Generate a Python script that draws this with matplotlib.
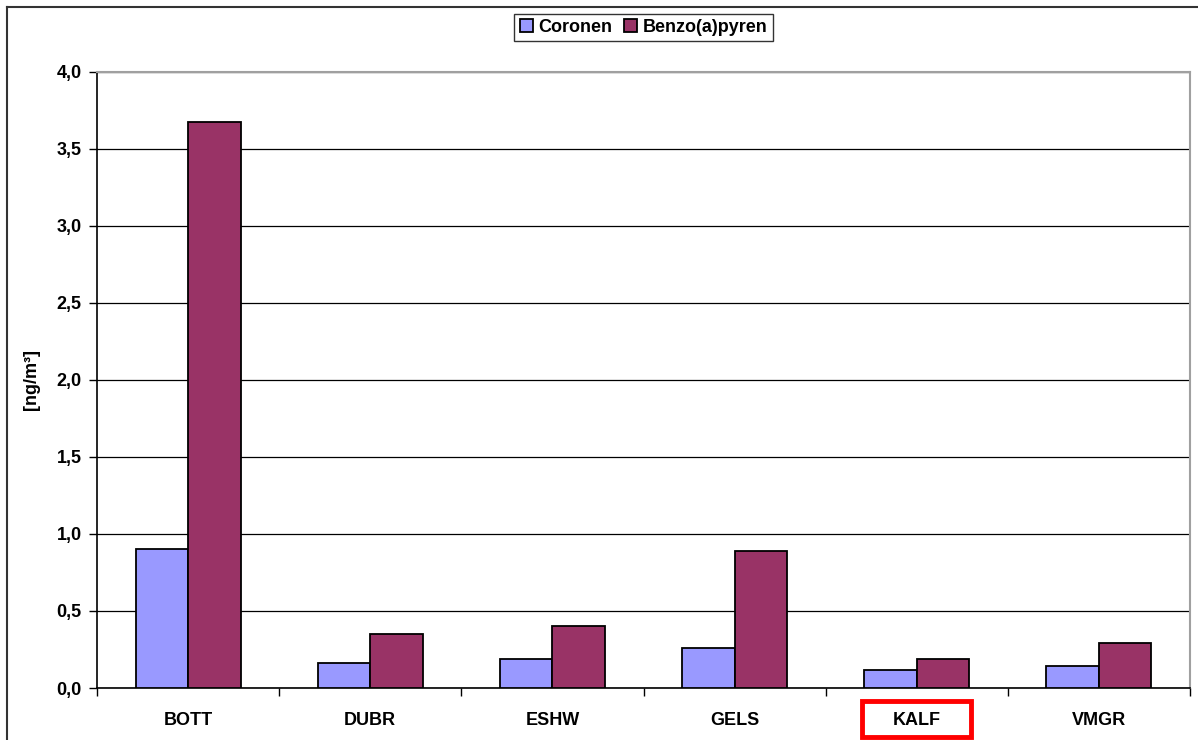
"""
Coronen vs. Benzo(a)pyren per station.
"""
import matplotlib.pyplot as plt
import numpy as np
from matplotlib.patches import Rectangle
from matplotlib.lines import Line2D

stations = ["BOTT", "DUBR", "ESHW", "GELS", "KALF", "VMGR"]
coronen = [0.90, 0.16, 0.19, 0.26, 0.12, 0.14]
benzo = [3.67, 0.35, 0.40, 0.89, 0.19, 0.29]
yticks = [0.0, 0.5, 1.0, 1.5, 2.0, 2.5, 3.0, 3.5, 4.0]

plt.rcParams['font.family'] = ['Liberation Sans', 'DejaVu Sans']
plt.rcParams['font.weight'] = 'bold'

fig = plt.figure(figsize=(11.98, 7.40), dpi=100)
ax = fig.add_axes([97 / 1198, 1 - 688 / 740, (1190 - 97) / 1198, (688 - 71.5) / 740])

x = np.arange(len(stations))
w = 0.288
ax.bar(x - w / 2, coronen, w, color='#9999ff', edgecolor='black', linewidth=1.3,
       label='Coronen', zorder=3)
ax.bar(x + w / 2, benzo, w, color='#993366', edgecolor='black', linewidth=1.3,
       label='Benzo(a)pyren', zorder=3)

ax.set_xlim(-0.5, len(stations) - 0.5)
ax.set_ylim(0, 4.0)
ax.set_yticks(yticks)
ax.set_yticklabels([f"{v:.1f}".replace('.', ',') for v in yticks], fontsize=13, fontweight='bold')
ax.yaxis.grid(True, color='black', linewidth=0.9, zorder=0)

# category labels centred, ticks between categories
ax.set_xticks(x)
ax.set_xticklabels(stations, fontsize=13, fontweight='bold')
ax.tick_params(axis='x', length=0, pad=17)
ax.set_xticks(np.arange(len(stations) + 1) - 0.5, minor=True)
ax.tick_params(axis='x', which='minor', length=6, width=1, direction='out')
ax.tick_params(axis='y', length=6, width=1, direction='out', pad=5)

ax.set_ylabel('[ng/m³]', fontsize=13, fontweight='bold', labelpad=12)

for s in ['top', 'right']:
    ax.spines[s].set_color('#a0a0a0')
    ax.spines[s].set_linewidth(1.5)
for s in ['left', 'bottom']:
    ax.spines[s].set_color('black')
    ax.spines[s].set_linewidth(1.2)

leg = ax.legend(loc='upper center', bbox_to_anchor=(0.5, 1 + 58 / 616.5), ncol=2,
                frameon=True, fancybox=False, edgecolor='black', fontsize=13,
                handlelength=0.75, handleheight=0.75, handletextpad=0.3,
                columnspacing=0.6, borderpad=0.3, borderaxespad=0)
leg.get_frame().set_linewidth(1.0)
for t in leg.get_texts():
    t.set_fontweight('bold')

# red highlight around KALF
fig.patches.append(Rectangle((862 / 1198, 1 - 737 / 740), (971 - 862) / 1198, (737 - 701) / 740,
                             transform=fig.transFigure, fill=False, edgecolor='red',
                             linewidth=3.5, zorder=5))

# outer frame (top and left edges visible)
fig.lines.append(Line2D([7 / 1198, 1], [1 - 7 / 740, 1 - 7 / 740], transform=fig.transFigure,
                        color='#333333', linewidth=1.5))
fig.lines.append(Line2D([7 / 1198, 7 / 1198], [0, 1 - 7 / 740], transform=fig.transFigure,
                        color='#333333', linewidth=1.5))

fig.savefig('out.png', dpi=100)
